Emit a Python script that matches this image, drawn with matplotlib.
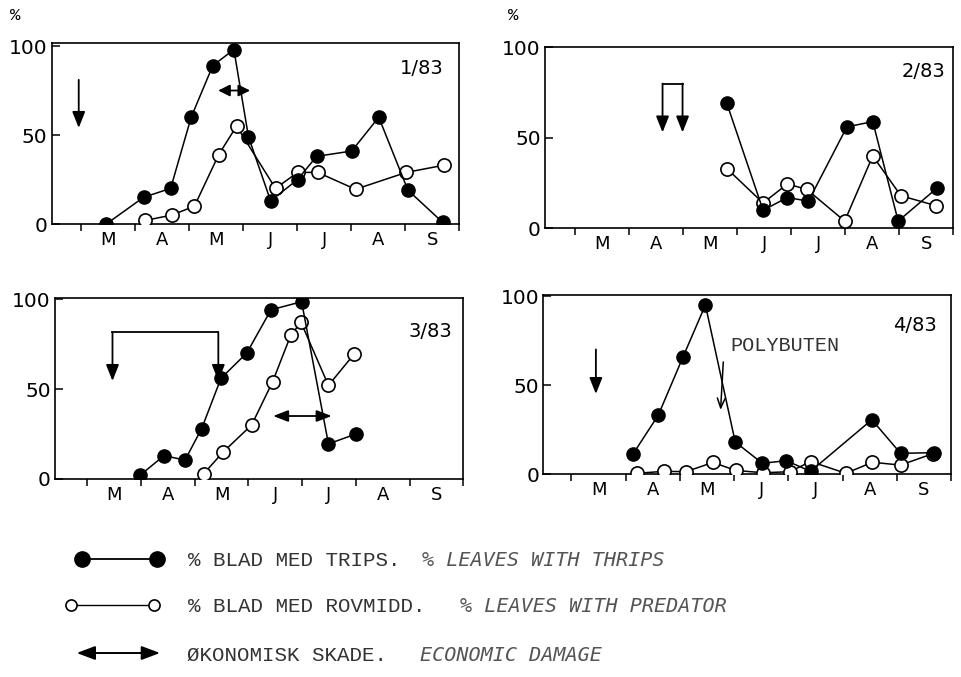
import matplotlib.pyplot as plt

# month axis: 3 = start of March ... 10 = end of September
months = ["M", "A", "M", "J", "J", "A", "S"]

# panel 1/83
p1_thrips_x = [3.47, 4.16, 4.66, 5.04, 5.44, 5.83, 6.10, 6.51, 7.01, 7.36, 8.01, 8.51, 9.05, 9.69]
p1_thrips_y = [0, 15, 20, 60, 89, 98, 49, 13, 25, 38, 41, 60, 19, 1]
p1_pred_x = [4.19, 4.68, 5.10, 5.55, 5.88, 6.60, 7.01, 7.38, 8.08, 9.02, 9.71]
p1_pred_y = [2, 5, 10, 39, 55, 20, 29, 29, 19.5, 29, 33]

# panel 2/83
p2_thrips_x = [5.81, 6.48, 6.93, 7.32, 8.03, 8.51, 8.98, 9.69]
p2_thrips_y = [69, 10, 17, 15, 56, 59, 4, 22]
p2_pred_x = [5.81, 6.48, 6.93, 7.29, 7.99, 8.51, 9.03, 9.68]
p2_pred_y = [33, 14, 24.5, 21.5, 4, 40, 18, 12.5]

# panel 3/83
p3_thrips_x = [3.98, 4.43, 4.82, 5.13, 5.49, 5.97, 6.42, 6.99, 7.49, 8.00]
p3_thrips_y = [2, 13, 10.5, 28, 56, 70, 94, 98.5, 19.5, 25]
p3_pred_x = [5.17, 5.53, 6.06, 6.45, 6.79, 6.98, 7.49, 7.97]
p3_pred_y = [3, 15, 30, 54, 80, 87, 52, 69.5]

# panel 4/83
p4_thrips_x = [4.14, 4.60, 5.06, 5.47, 6.02, 6.52, 6.96, 7.41, 8.54, 9.07, 9.69]
p4_thrips_y = [11.5, 33, 66, 95, 18, 6, 7.5, 1.5, 30.5, 11.6, 12]
p4_pred_x = [4.21, 4.71, 5.11, 5.61, 6.03, 6.54, 7.03, 7.41, 8.06, 8.55, 9.07, 9.67]
p4_pred_y = [0.4, 1.5, 1.3, 6.5, 2, 0.7, 1.3, 7, 0.4, 6.6, 5, 11.5]

panel_names = ["1/83", "2/83", "3/83", "4/83"]

# treatment arrows (x, y_top, y_tip) and economic damage (x0, x1, y)
p1_down = [(2.96, 81, 54)]
p1_damage = (5.54, 6.13, 75)
p2_bracket = (4.62, 4.99, 80, 53)
p3_bracket = (3.47, 5.44, 81.5, 54.5)
p3_damage = (6.46, 7.55, 35)
p4_down = [(3.45, 70, 45)]
p4_poly = (5.80, 63, 5.75, 36)

fig = plt.figure(figsize=(9.61, 6.77), dpi=100)
W, H = 961, 677


def add_panel(left, right, top, bottom, xmin, ymax):
    ax = fig.add_axes([left / W, 1 - bottom / H, (right - left) / W, (bottom - top) / H])
    ax.set_xlim(xmin, 10)
    ax.set_ylim(0, ymax)
    ax.set_xticks(range(3, 11))
    ax.set_xticklabels([])
    ax.set_xticks([m + 3.5 for m in range(7)], minor=True)
    ax.set_xticklabels(months, minor=True, family="DejaVu Sans")
    ax.tick_params(axis="x", which="major", direction="out", length=5, width=1.1)
    ax.tick_params(axis="x", which="minor", length=0, pad=5, labelsize=13)
    ax.set_yticks([0, 50, 100])
    ax.tick_params(axis="y", direction="in", length=6, width=1.1, pad=3, labelsize=14.5)
    for s in ax.spines.values():
        s.set_linewidth(1.2)
    return ax


def series(ax, tx, ty, px, py):
    ax.plot(px, py, "-o", color="black", lw=1.1, ms=9.5, mfc="white", mec="black", mew=1.2, zorder=3)
    ax.plot(tx, ty, "-o", color="black", lw=1.1, ms=9.5, mfc="black", mec="black", zorder=4)


def down_arrow(ax, x, y0, y1):
    ax.annotate("", xy=(x, y1), xytext=(x, y0),
                arrowprops=dict(arrowstyle="-|>,head_length=0.7,head_width=0.28", mutation_scale=14,
                                lw=1.3, color="black", shrinkA=0, shrinkB=0))


def damage(ax, x0, x1, y, head=0.65):
    ax.annotate("", xy=(x1, y), xytext=(x0, y),
                arrowprops=dict(arrowstyle=f"<|-|>,head_length={head},head_width=0.25", mutation_scale=14,
                                lw=1.3, color="black", shrinkA=0, shrinkB=0))


def bracket(ax, x0, x1, top, tip):
    ax.plot([x0, x1], [top, top], color="black", lw=1.3, solid_capstyle="projecting")
    down_arrow(ax, x0, top, tip)
    down_arrow(ax, x1, top, tip)


def panel_label(ax, text, xa, ya):
    ax.text(xa, ya, text, transform=ax.transAxes, ha="right", va="center",
            fontsize=14, family="DejaVu Sans")


ax1 = add_panel(51.7, 459.3, 43, 224, 2.46, 101.7)
series(ax1, p1_thrips_x, p1_thrips_y, p1_pred_x, p1_pred_y)
for d in p1_down:
    down_arrow(ax1, *d)
damage(ax1, *p1_damage, head=0.5)
panel_label(ax1, panel_names[0], 0.961, 0.86)

ax2 = add_panel(545, 953.3, 47, 228.3, 2.445, 100.2)
series(ax2, p2_thrips_x, p2_thrips_y, p2_pred_x, p2_pred_y)
bracket(ax2, *p2_bracket)
panel_label(ax2, panel_names[1], 0.98, 0.864)

ax3 = add_panel(55, 463.3, 298.3, 479, 2.40, 100.4)
series(ax3, p3_thrips_x, p3_thrips_y, p3_pred_x, p3_pred_y)
bracket(ax3, *p3_bracket)
damage(ax3, *p3_damage)
panel_label(ax3, panel_names[2], 0.972, 0.815)

ax4 = add_panel(543.3, 951, 295, 474, 2.48, 100.6)
series(ax4, p4_thrips_x, p4_thrips_y, p4_pred_x, p4_pred_y)
for d in p4_down:
    down_arrow(ax4, *d)
ax4.annotate("", xy=(p4_poly[2], p4_poly[3]), xytext=(p4_poly[0], p4_poly[1]),
             arrowprops=dict(arrowstyle="->,head_length=0.5,head_width=0.2", mutation_scale=14,
                             lw=1.1, color="black", shrinkA=0, shrinkB=0))
ax4.text(5.93, 69, "POLYBUTEN", family="Liberation Mono", fontsize=14.5, color="#333333", va="baseline")
panel_label(ax4, panel_names[3], 0.965, 0.832)

# "%" unit marks
fig.text(15 / W, 1 - 15 / H, "%", family="Liberation Mono", fontsize=12.5, ha="center", va="center")
fig.text(513 / W, 1 - 15 / H, "%", family="Liberation Mono", fontsize=12.5, ha="center", va="center")

# legend drawn in pixel space on an invisible overlay
lax = fig.add_axes([0, 0, 1, 1], zorder=-1)
lax.set_xlim(0, W)
lax.set_ylim(H, 0)
lax.axis("off")
lax.plot([81.7, 156.7], [559, 559], "-o", color="black", lw=1.3, ms=11, mfc="black")
lax.plot([71, 154.3], [605, 605], "-o", color="black", lw=1.0, ms=8, mfc="white", mew=1.2)
lax.annotate("", xy=(160, 653), xytext=(76.7, 653),
             arrowprops=dict(arrowstyle="<|-|>,head_length=0.8,head_width=0.3", mutation_scale=14,
                             lw=1.4, color="black", shrinkA=0, shrinkB=0))

up_font = dict(family="Liberation Mono", fontsize=15, color="#333333", va="baseline")
it_font = dict(family="DejaVu Sans Mono", style="italic", fontsize=14.5, color="#555555", va="baseline")
lax.text(188, 565.7, "% BLAD MED TRIPS.", **up_font)
lax.text(421.7, 565.7, "% LEAVES WITH THRIPS", **it_font)
lax.text(188, 612.3, "% BLAD MED ROVMIDD.", **up_font)
lax.text(460, 612.3, "% LEAVES WITH PREDATOR", **it_font)
lax.text(187, 661, "ØKONOMISK SKADE.", **up_font)
lax.text(420, 661, "ECONOMIC DAMAGE", **it_font)

fig.savefig("out.png", dpi=100)
